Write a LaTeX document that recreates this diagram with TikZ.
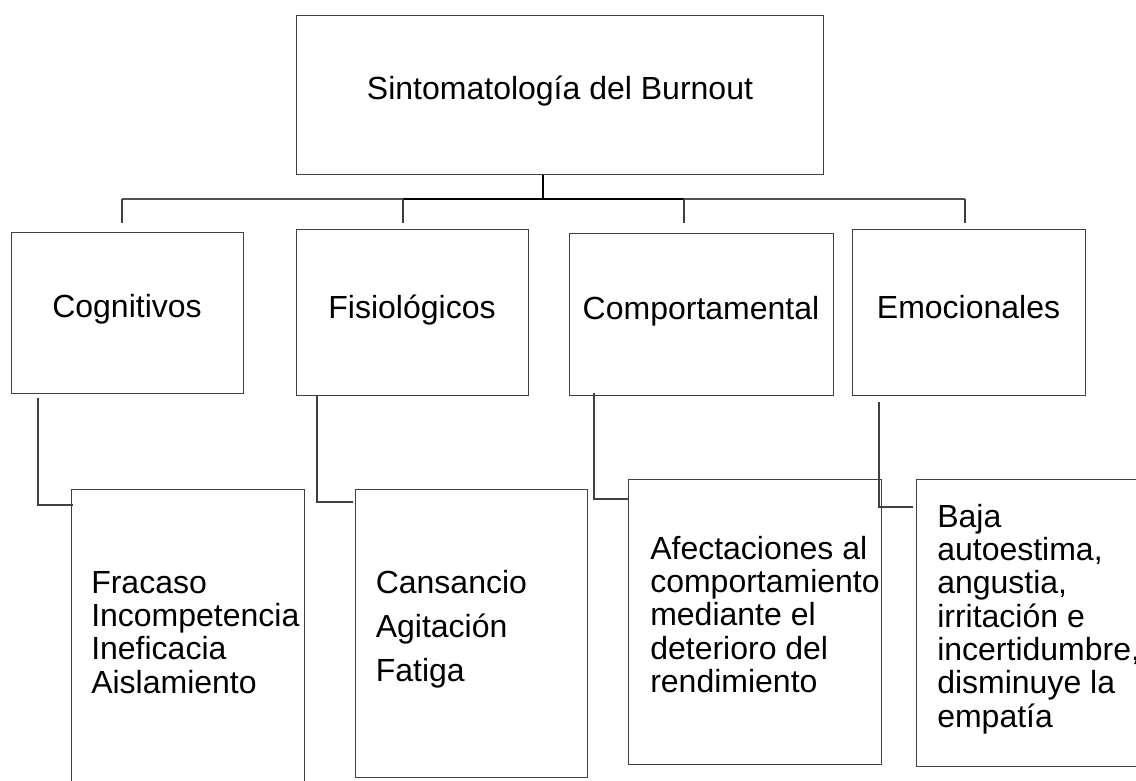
\documentclass[tikz,border=0pt]{standalone}
\usepackage{fontspec}
\setmainfont{Liberation Sans}
\usetikzlibrary{calc}
\definecolor{linegray}{HTML}{404040}
\definecolor{bargray}{HTML}{505050}
\begin{document}
\begin{tikzpicture}[x=0.75pt,y=-0.75pt,
  box/.style={draw=linegray, line width=0.9pt, inner sep=0pt, anchor=north west},
  lbl/.style={font=\fontsize{24pt}{25pt}\selectfont, inner sep=0pt, text=black},
  widelbl/.style={font=\fontsize{24pt}{33pt}\selectfont, inner sep=0pt, text=black},
  conn/.style={draw=linegray, line width=0.9pt},
  trunk/.style={draw=black, line width=1.6pt},
  branch/.style={draw=bargray, line width=1.3pt}]
\useasboundingbox (0,0) rectangle (1136,781);
\fill[white] (0,0) rectangle (1136,781);
\clip (0,0) rectangle (1136,781);

% boxes
\node[box, minimum width=527*0.75pt, minimum height=159*0.75pt] (top) at (296,15) {};
\node[box, minimum width=232*0.75pt, minimum height=161*0.75pt] (cog) at (11,232) {};
\node[box, minimum width=232*0.75pt, minimum height=166*0.75pt] (fis) at (296,229) {};
\node[box, minimum width=264*0.75pt, minimum height=162*0.75pt] (com) at (569,233) {};
\node[box, minimum width=233*0.75pt, minimum height=166*0.75pt] (emo) at (852,229) {};
\node[box, minimum width=233*0.75pt, minimum height=330*0.75pt] (fra) at (71,489) {};
\node[box, minimum width=232*0.75pt, minimum height=288*0.75pt] (can) at (355,489) {};
\node[box, minimum width=253*0.75pt, minimum height=285*0.75pt] (afe) at (628,479) {};
\node[box, minimum width=260*0.75pt, minimum height=287*0.75pt] (baj) at (916,479) {};

% texts
\node[lbl, anchor=base] (topt) at (560,100) {Sintomatología del Burnout};
\node[lbl, anchor=base] (cogt) at (127,317) {Cognitivos};
\node[lbl, anchor=base] (fist) at (412,318) {Fisiológicos};
\node[lbl, anchor=base] (comt) at (701,320) {Comportamental};
\node[lbl, anchor=base] (emot) at (968.5,318) {Emocionales};
\node[lbl, anchor=base west] (frat) at (91,593)
  {\vtop{\hbox{Fracaso}\hbox{Incompetencia}\hbox{Ineficacia}\hbox{Aislamiento}}};
\node[widelbl, anchor=base west] (cant) at (375.5,593)
  {\vtop{\hbox{Cansancio}\hbox{Agitación}\hbox{Fatiga}}};
\node[lbl, anchor=base west] (afet) at (650,559)
  {\vtop{\hbox{Afectaciones al}\hbox{comportamiento}\hbox{mediante el}\hbox{deterioro del}\hbox{rendimiento}}};
\node[lbl, anchor=base west] (bajt) at (937,527)
  {\vtop{\hbox{Baja}\hbox{autoestima,}\hbox{angustia,}\hbox{irritación e}\hbox{incertidumbre,}\hbox{disminuye la}\hbox{empatía}}};

% top connectors
\coordinate (bar) at (543,199);
\coordinate (d1) at (122,223);
\coordinate (d2) at (403,223);
\coordinate (d3) at (684,223);
\coordinate (d4) at (965,223);
\draw[branch] (d1 |- bar) -- (d4 |- bar);
\draw[trunk] (d2 |- bar) -- (d3 |- bar);
\draw[trunk] (top.south -| bar) -- (bar);
\draw[conn] (d1 |- bar) -- (d1);
\draw[conn] (d2 |- bar) -- (d2);
\draw[conn] (d3 |- bar) -- (d3);
\draw[conn] (d4 |- bar) -- (d4);

% lower connectors
\coordinate (k1a) at (38,398);  \coordinate (k1b) at (38,505);
\coordinate (k2a) at (317,396); \coordinate (k2b) at (317,502);
\coordinate (k3a) at (594,393); \coordinate (k3b) at (594,499);
\coordinate (k4a) at (879,402); \coordinate (k4b) at (879,507);
\draw[conn] (k1a) -- (k1b) -- ([xshift=1.5pt]k1b -| fra.west);
\draw[conn] (k2a) -- (k2b) -- ([xshift=-1.5pt]k2b -| can.west);
\draw[conn] (k3a) -- (k3b) -- (k3b -| afe.west);
\draw[conn] (k4a) -- (k4b) -- ([xshift=-2pt]k4b -| baj.west);
\end{tikzpicture}
\end{document}
